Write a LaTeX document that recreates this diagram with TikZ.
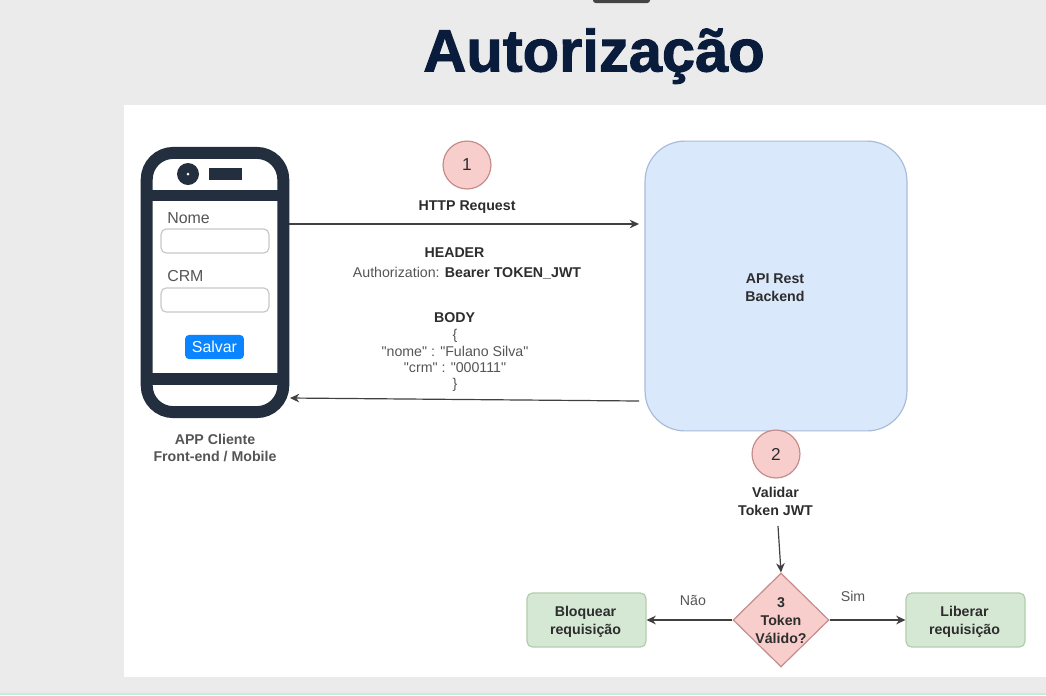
\documentclass[tikz,border=0pt]{standalone}
\usepackage{fontspec}
\setmainfont{Liberation Sans}
\newfontfamily\titlefont[FakeBold=1.6]{Liberation Sans Bold}
\newfontfamily\jsonfont{Liberation Sans}
\usepackage{tikz}
\usetikzlibrary{shapes.geometric, arrows.meta, positioning, calc}
\definecolor{ScreenBg}{RGB}{235, 235, 235}
\definecolor{TabDark}{RGB}{68, 68, 68}
\definecolor{StripGreen}{RGB}{190, 240, 220}
\definecolor{TitleNavy}{RGB}{10, 28, 60}
\definecolor{PhoneDark}{RGB}{35, 47, 62}
\definecolor{FieldLine}{RGB}{200, 200, 200}
\definecolor{SaveBlue}{RGB}{10, 132, 255}
\definecolor{ApiFill}{RGB}{218, 232, 252}
\definecolor{ApiLine}{RGB}{170, 188, 216}
\definecolor{StepFill}{RGB}{248, 206, 204}
\definecolor{StepLine}{RGB}{196, 140, 138}
\definecolor{OkFill}{RGB}{213, 232, 212}
\definecolor{OkLine}{RGB}{178, 205, 172}
\definecolor{LabelText}{RGB}{45, 45, 45}
\definecolor{SoftText}{RGB}{85, 85, 85}
\tikzset{
  stepnode/.style={circle, draw=StepLine, fill=StepFill, line width=0.9pt, minimum size=1.27cm, inner sep=0pt, font=\fontsize{13}{15}\selectfont, text=LabelText},
  boldlabel/.style={align=center, inner sep=0pt, font=\fontsize{10.7}{13.4}\selectfont\bfseries, text=LabelText},
  softlabel/.style={align=center, inner sep=0pt, font=\fontsize{10.7}{12.3}\selectfont, text=SoftText},
  outcome/.style={draw=OkLine, fill=OkFill, line width=0.9pt, rounded corners=4pt, minimum width=3.15cm, minimum height=1.43cm},
  field/.style={draw=FieldLine, fill=white, line width=0.9pt, rounded corners=4pt, minimum width=2.86cm, minimum height=0.64cm},
  flow/.style={-{Stealth[length=7pt, width=6.5pt]}, line width=0.9pt, draw=black!75}
}
\begin{document}
\begin{tikzpicture}[x=0.0265cm, y=-0.0265cm, >=Stealth]
      % Screen behind the slide
      \fill[ScreenBg] (0, 0) rectangle (1046, 695);
      \useasboundingbox (0, 0) rectangle (1046, 695);
      \fill[TabDark, rounded corners=2pt] (593, -6) rectangle (650, 3);
      \fill[StripGreen] (0, 693) rectangle (1046, 695);
      \fill[white] (124, 105) rectangle (1046, 677);
      \node[inner sep=0pt, anchor=base, font=\fontsize{45}{50}\selectfont\titlefont, text=TitleNavy] (title) at (594, 71.5) {Autorização};

      % Phone
      \node[draw=PhoneDark, fill=white, line width=9pt, rounded corners=20pt, minimum width=3.62cm, minimum height=6.87cm] (phone) at (215, 282.5) {};
      \fill[PhoneDark] (147, 190) rectangle (283, 201);
      \fill[PhoneDark] (147, 373) rectangle (283, 385);
      \fill[PhoneDark] (188, 174) circle (11);
      \fill[white] (188, 174) circle (1.5);
      \fill[PhoneDark] (209, 168) rectangle (242, 180);
      \node[softlabel, font=\fontsize{12}{14}\selectfont, anchor=west] (nomelabel) at (167, 218) {Nome};
      \node[field] (nomefield) at (215, 241) {};
      \node[softlabel, font=\fontsize{12}{14}\selectfont, anchor=west] (crmlabel) at (167, 276) {CRM};
      \node[field] (crmfield) at (215, 300) {};
      \node[fill=SaveBlue, text=white, rounded corners=3pt, minimum width=1.56cm, minimum height=0.64cm, inner sep=0pt, font=\fontsize{12}{14}\selectfont] (salvar) at (214.5, 347) {Salvar};
      \node[boldlabel, text=SoftText] (applabel) at (215, 448) {APP Cliente\\Front-end / Mobile};

      % Backend
      \node[draw=ApiLine, fill=ApiFill, line width=0.9pt, rounded corners=30pt, minimum width=6.94cm, minimum height=7.68cm] (api) at (776, 286) {};
      \node[boldlabel] (apilabel) at (775, 287.5) {API Rest\\Backend};

      % Request and response
      \node[stepnode] (stepone) at (467, 165) {1};
      \node[boldlabel] (httplabel) at (467, 207) {HTTP Request};
      \coordinate (reqstart) at (289, 224);
      \coordinate (reqend) at (639, 224);
      \draw[flow] (reqstart) -- (reqend);
      \node[boldlabel] (headerlabel) at (454.5, 252.5) {HEADER};
      \node[softlabel] (authlabel) at (467, 273) {Authorization: \textcolor{LabelText}{\bfseries Bearer TOKEN\_JWT}};
      \node[boldlabel] (bodylabel) at (454.5, 317.5) {BODY};
      \node[softlabel, font=\fontsize{10.7}{12.3}\selectfont\jsonfont] (jsonlabel) at (455, 360.5) {\{\\"nome" : "Fulano Silva"\\"crm" : "000111"\\\}};
      \coordinate (respstart) at (639, 401);
      \coordinate (respend) at (290, 398);
      \draw[flow] (respstart) -- (respend);

      % Validation
      \node[stepnode] (steptwo) at (776, 454) {2};
      \node[boldlabel] (validarlabel) at (775.5, 501.5) {Validar\\Token JWT};
      \node[diamond, draw=StepLine, fill=StepFill, line width=0.9pt, minimum width=2.54cm, minimum height=2.49cm, inner sep=0pt] (valido) at (781, 620) {};
      \node[boldlabel] (validolabel) at (781, 620.5) {3\\Token\\Válido?};
      \coordinate (validarend) at (778, 526);
      \draw[flow] (validarend) -- (valido.north);

      % Outcomes
      \node[outcome] (bloquear) at (586.5, 620) {};
      \node[boldlabel] (bloquearlabel) at (585.5, 621.5) {Bloquear\\requisição};
      \node[outcome] (liberar) at (965.5, 620) {};
      \node[boldlabel] (liberarlabel) at (964.5, 621.5) {Liberar\\requisição};
      \draw[flow] (valido.west) -- (bloquear.east);
      \draw[flow] (valido.east) -- (liberar.west);
      \node[softlabel] (naolabel) at (693, 600) {Não};
      \node[softlabel] (simlabel) at (853, 596) {Sim};
    \end{tikzpicture}
\end{document}
